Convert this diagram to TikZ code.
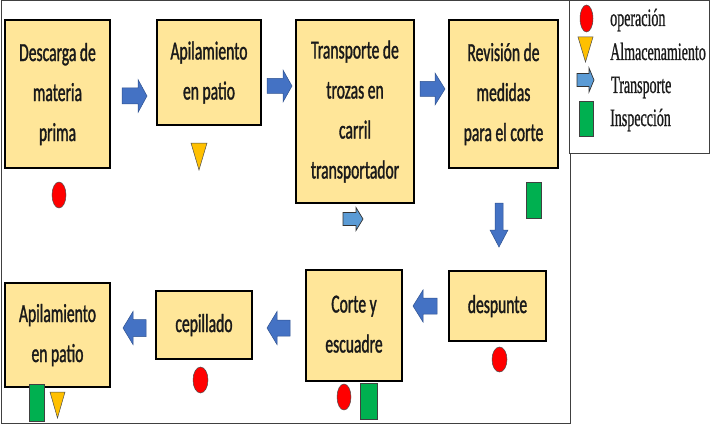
\documentclass[tikz,border=0pt]{standalone}
\usepackage{fontspec}
\usetikzlibrary{shapes.geometric}
\newfontfamily\boxfont[FakeStretch=0.6,FakeBold=1.2]{Carlito}
\newfontfamily\legfont[FakeStretch=0.56,FakeBold=0.8]{Liberation Serif}
\definecolor{boxfill}{HTML}{FFE699}
\definecolor{arrowfill}{HTML}{4472C4}
\definecolor{arrowline}{HTML}{2F528F}
\definecolor{lightarrow}{HTML}{5B9BD5}
\definecolor{opred}{HTML}{FF0000}
\definecolor{almyellow}{HTML}{FFC000}
\definecolor{inspgreen}{HTML}{00B050}
\definecolor{textdark}{HTML}{1A1A1A}
\newcommand\bst{\rule[-13pt]{0pt}{40pt}}
\begin{document}
\begin{tikzpicture}[x=1pt,y=-1pt,
  procbox/.style={draw=black, line width=1.6pt, fill=boxfill, inner sep=0pt,
    align=center, text=textdark, font=\boxfont\fontsize{26}{40}\selectfont},
  bluearrow/.style={fill=arrowfill, draw=arrowline, line width=0.5pt},
  transparrow/.style={fill=lightarrow, draw=black!80, line width=0.7pt},
  opmark/.style={ellipse, fill=opred, draw=black!70, line width=0.5pt, inner sep=0pt},
  inspmark/.style={rectangle, fill=inspgreen, draw=black!75, line width=0.7pt, inner sep=0pt},
  almmark/.style={fill=almyellow, draw=black!70, line width=0.5pt},
  legtext/.style={anchor=base west, inner sep=0pt, text=textdark, font=\legfont\fontsize{25}{30}\selectfont},
  pics/barrow/.style n args={4}{code={
    \path[pic actions] (0,-#3) -- (#1-#2,-#3) -- (#1-#2,-#4) -- (#1,0) -- (#1-#2,#4) -- (#1-#2,#3) -- (0,#3) -- cycle;
  }},
  pics/almtri/.style n args={2}{code={
    \path[pic actions] (-#1,0) -- (#1,0) -- (0,#2) -- cycle;
  }}
]
\useasboundingbox (0,0) rectangle (711,425);
% frames
\draw[draw=black!75, line width=1pt] (1,1) rectangle (570,423);
\draw[draw=black!75, line width=1pt, fill=white] (569,1) rectangle (709,153);

% process boxes
\node[procbox, minimum width=105pt, minimum height=148pt] (b1) at (57.5,94) {\bst Descarga de\\\bst materia\\\bst prima};
\node[procbox, minimum width=104pt, minimum height=105pt] (b2) at (209,72.5) {\bst Apilamiento\\\bst en patio};
\node[procbox, minimum width=118pt, minimum height=183pt] (b3) at (355,111.5) {\bst Transporte de\\\bst trozas en\\\bst carril\\\bst transportador};
\node[procbox, minimum width=109pt, minimum height=148pt] (b4) at (503.5,94) {\bst Revisión de\\\bst medidas\\\bst para el corte};
\node[procbox, minimum width=97pt, minimum height=70pt] (b8) at (497.5,306) {\bst despunte};
\node[procbox, minimum width=96pt, minimum height=111pt] (b7) at (354,325.5) {\bst Corte y\\\bst escuadre};
\node[procbox, minimum width=96pt, minimum height=68pt] (b6) at (204,325) {\bst cepillado};
\node[procbox, minimum width=105pt, minimum height=104pt] (b5) at (57.5,335) {\bst Apilamiento\\\bst en patio};

% block arrows
\pic[bluearrow] (a12) at (122,96) {barrow={25}{9}{8}{16.5}};
\pic[bluearrow] (a23) at (267,86) {barrow={25}{9}{7.5}{16}};
\pic[bluearrow] (a34) at (420,89) {barrow={25}{10}{7.5}{16}};
\pic[bluearrow, rotate=-90] (a48) at (499,203) {barrow={44}{17}{4}{9}};
\pic[bluearrow, rotate=180] (a87) at (437,306) {barrow={24}{10}{8}{16}};
\pic[bluearrow, rotate=180] (a76) at (290,328) {barrow={23}{10}{8}{16.5}};
\pic[bluearrow, rotate=180] (a65) at (146,328) {barrow={23}{10}{8.5}{16.5}};
\pic[transparrow] (t3) at (343,219) {barrow={20}{7}{6.5}{11.5}};

% symbols
\node[opmark, minimum width=14pt, minimum height=26pt] (o1) at (59,195) {};
\pic[almmark] (s2) at (199,143) {almtri={8}{27}};
\node[inspmark, minimum width=15pt, minimum height=36pt] (i4) at (533.5,200) {};
\node[opmark, minimum width=15pt, minimum height=25pt] (o8) at (499.5,359.5) {};
\node[opmark, minimum width=14pt, minimum height=26pt] (o7) at (344,397) {};
\node[inspmark, minimum width=17pt, minimum height=36pt] (i7) at (368.5,401) {};
\node[opmark, minimum width=15pt, minimum height=26pt] (o6) at (200.5,380) {};
\node[inspmark, minimum width=15pt, minimum height=37pt] (i5) at (36.5,402.5) {};
\pic[almmark] (s5) at (57.5,392) {almtri={7.5}{26}};

% legend
\node[opmark, minimum width=13pt, minimum height=27pt] (lo) at (586.5,18.5) {};
\pic[almmark] (ls) at (585.5,37) {almtri={7.5}{25}};
\pic[transparrow] (lt) at (577,80) {barrow={17}{5}{6.5}{12}};
\node[inspmark, minimum width=14pt, minimum height=35pt] (li) at (586,118.5) {};
\node[legtext] (lt1) at (610,26) {operación};
\node[legtext] (lt2) at (610,60) {Almacenamiento};
\node[legtext] (lt3) at (611,93) {Transporte};
\node[legtext] (lt4) at (610,126) {Inspección};
\end{tikzpicture}
\end{document}
